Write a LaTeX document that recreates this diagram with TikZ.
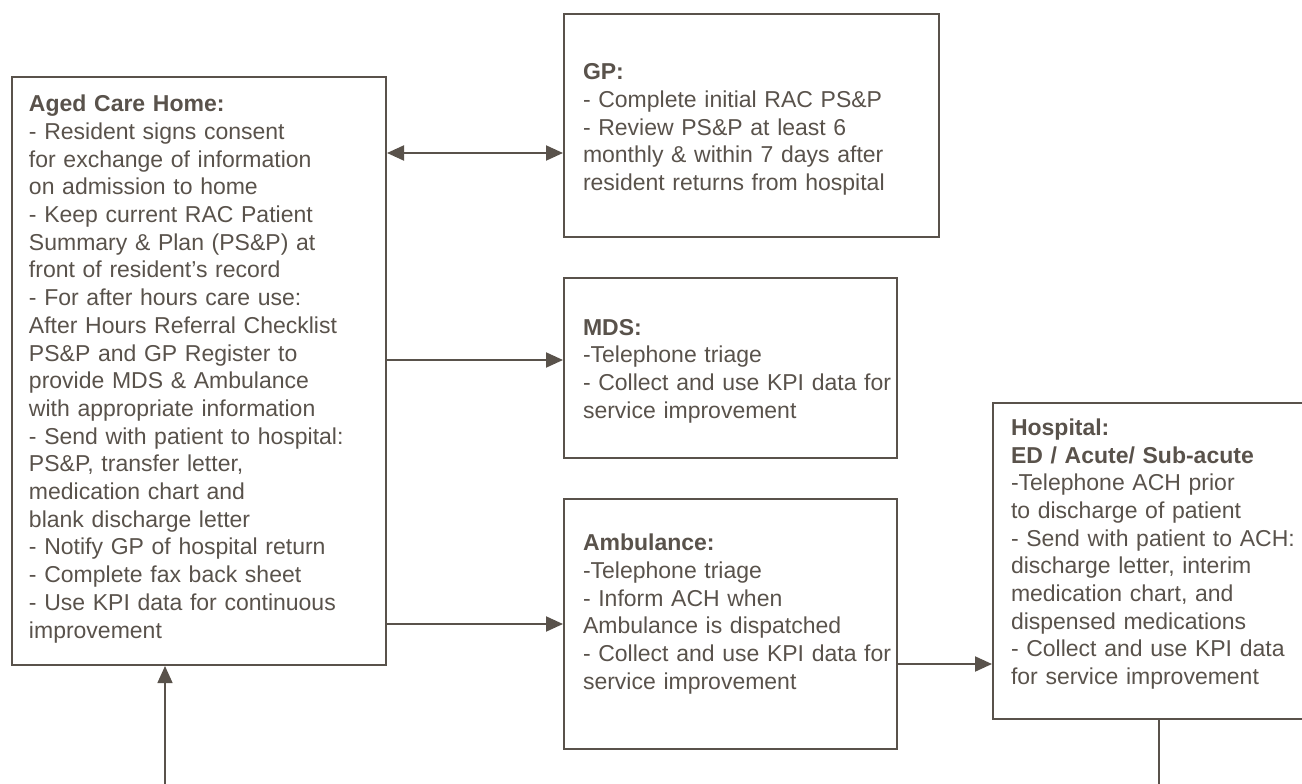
\documentclass[tikz,border=0pt]{standalone}
\usepackage{fontspec}
\setmainfont{Liberation Sans}
\usetikzlibrary{arrows.meta}
\definecolor{ink}{RGB}{89,82,75}
% left indent of a box's text, and extra space below its last line
\newcommand{\inset}[1]{\leftskip=#1pt\relax}
\newcommand{\gap}[1]{\par\kern#1pt\relax}
\begin{document}
\begin{tikzpicture}[x=1pt,y=-1pt,
  panel/.style={draw=ink, line width=2pt, anchor=north west,
    inner xsep=0pt, inner ysep=0pt, align=left, text=ink,
    font=\fontsize{23}{27.7}\selectfont},
  link/.style={draw=ink, line width=2pt},
  thin link/.style={draw=ink, line width=1.4pt},
  head/.tip={Triangle[length=17pt,width=15pt]},
  tip/.style={-head},
  both tips/.style={head-head}]
\useasboundingbox (0,0) rectangle (1302,784);
\clip (0,0) rectangle (1302,784);

% service boxes
\node[panel, text width=374pt, minimum height=588pt] (ach) at (11,76)
  {\inset{17}\textbf{Aged Care Home:}\\
   - Resident signs consent\\
   for exchange of information\\
   on admission to home\\
   - Keep current RAC Patient\\
   Summary \& Plan (PS\&P) at\\
   front of resident’s record\\
   - For after hours care use:\\
   After Hours Referral Checklist\\
   PS\&P and GP Register to\\
   provide MDS \& Ambulance\\
   with appropriate information\\
   - Send with patient to hospital:\\
   PS\&P, transfer letter,\\
   medication chart and\\
   blank discharge letter\\
   - Notify GP of hospital return\\
   - Complete fax back sheet\\
   - Use KPI data for continuous\\
   improvement\gap{4}};

\node[panel, text width=375pt, minimum height=223pt] (gp) at (563,13)
  {\inset{19}\textbf{GP:}\\
   - Complete initial RAC PS\&P\\
   - Review PS\&P at least 6\\
   monthly \& within 7 days after\\
   resident returns from hospital\gap{-8}};

\node[panel, text width=333pt, minimum height=180pt] (mds) at (563,277)
  {\inset{19}\textbf{MDS:}\\
   -Telephone triage\\
   - Collect and use KPI data for\\
   service improvement\gap{-6}};

\node[panel, text width=333pt, minimum height=250pt] (amb) at (563,498)
  {\inset{19}\textbf{Ambulance:}\\
   -Telephone triage\\
   - Inform ACH when\\
   Ambulance is dispatched\\
   - Collect and use KPI data for\\
   service improvement\gap{20}};

\node[panel, text width=330pt, minimum height=316pt] (hosp) at (992,402)
  {\inset{18}\textbf{Hospital:}\\
   \textbf{ED / Acute/ Sub-acute}\\
   -Telephone ACH prior\\
   to discharge of patient\\
   - Send with patient to ACH:\\
   discharge letter, interim\\
   medication chart, and\\
   dispensed medications\\
   - Collect and use KPI data\\
   for service improvement\gap{14}};

% connectors
\draw[link, both tips] (ach.east |- 0,153) -- (gp.west |- 0,153);
\draw[link, tip] (ach.east |- 0,360) -- (mds.west |- 0,360);
\draw[link, tip] (ach.east |- 0,624) -- (amb.west |- 0,624);
\draw[link, tip] (amb.east |- 0,664) -- (hosp.west |- 0,664);

\coordinate (return) at (165,784);
\coordinate (leave) at (1159,784);
\draw[thin link, tip] (return) -- (return |- ach.south);
\draw[thin link] (leave |- hosp.south) -- (leave);
\end{tikzpicture}
\end{document}
